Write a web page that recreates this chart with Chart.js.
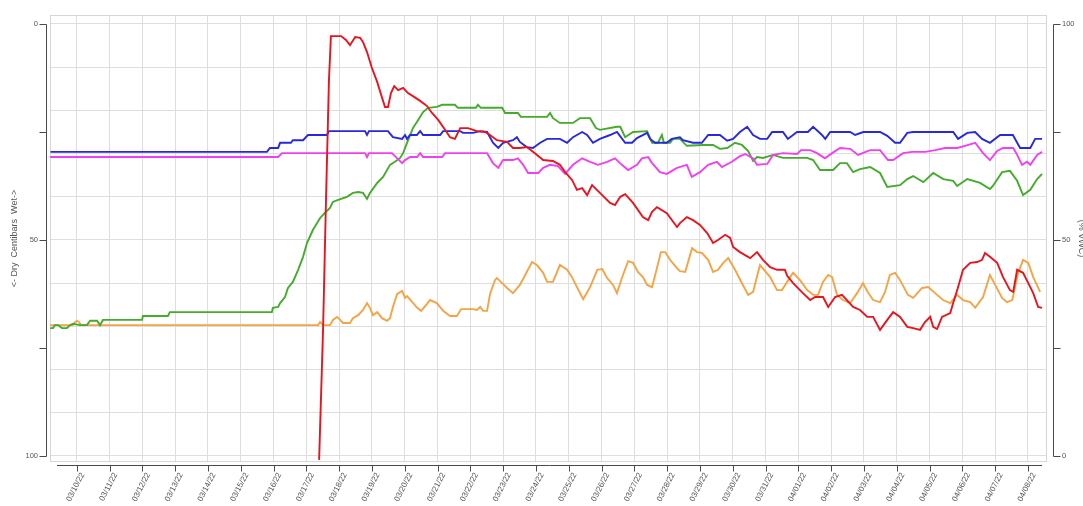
<!DOCTYPE html>
<html>
<head>
<meta charset="utf-8">
<script src="https://cdn.jsdelivr.net/npm/chart.js@4.4.1/dist/chart.umd.min.js"></script>
<style>
html,body{margin:0;padding:0;overflow:hidden;background:#ffffff;}
canvas{display:block;}
</style>
</head>
<body>
<canvas id="c" width="1092" height="506"></canvas>
<script>
// ---- tick labels ----
const dayLabels = ["03/10/22","03/11/22","03/12/22","03/13/22","03/14/22","03/15/22","03/16/22","03/17/22","03/18/22","03/19/22","03/20/22","03/21/22","03/22/22","03/23/22","03/24/22","03/25/22","03/26/22","03/27/22","03/28/22","03/29/22","03/30/22","03/31/22","04/01/22","04/02/22","04/03/22","04/04/22","04/05/22","04/06/22","04/07/22","04/08/22"];
const gridSteps = [0,10,20,30,40,50,60,70,80,90,100];
const axisLabels = [0,50,100];
const axisMarks = [0,25,50,75,100];
const leftTitle = "<- Dry  Centibars  Wet->";
const rightTitle = "(% VWC)";

// ---- red (left axis, centibars) : x = days since 03/10/22 ----
const redDays = [7.39,7.51,7.60,7.69,7.75,8.06,8.21,8.33,8.49,8.64,8.73,8.85,9.00,9.16,9.31,9.40,9.49,9.58,9.68,9.80,9.95,10.10,10.25,10.47,10.68,10.83,11.02,11.23,11.38,11.53,11.69,11.93,12.20,12.45,12.60,12.81,13.12,13.30,13.51,13.72,13.91,14.22,14.52,14.73,14.89,15.10,15.25,15.41,15.56,15.71,15.95,16.26,16.41,16.57,16.72,16.96,17.26,17.42,17.54,17.69,17.99,18.30,18.39,18.60,18.79,19.00,19.22,19.40,19.55,19.77,19.92,20.01,20.22,20.53,20.74,20.92,21.14,21.35,21.59,21.66,21.84,22.14,22.36,22.51,22.75,22.91,23.12,23.33,23.48,23.67,23.88,24.10,24.28,24.49,24.71,24.89,25.10,25.32,25.50,25.71,25.86,26.02,26.11,26.23,26.38,26.63,26.72,26.87,27.02,27.24,27.45,27.60,27.69,27.84,28.06,28.15,28.24,28.45,28.55,28.67,28.85,29.07,29.16,29.31,29.43];
const redVals = [100.9,70.8,40.7,13.0,2.8,2.8,3.7,4.9,3.0,3.2,4.2,6.5,10.2,13.4,17.1,19.2,19.2,16.0,14.4,15.3,14.8,16.0,16.7,17.8,19.0,20.6,22.2,24.5,26.2,26.6,24.1,24.1,24.8,25.0,25.7,26.9,27.3,28.7,28.7,28.5,29.6,31.5,31.7,32.6,34.3,36.1,38.4,38.0,39.6,37.3,39.1,41.4,41.9,40.0,39.4,41.4,44.7,45.4,43.5,42.4,43.8,47.0,46.1,44.7,45.4,46.5,48.4,50.7,50.0,48.8,49.5,51.6,52.8,54.2,52.8,54.6,56.3,56.9,56.9,58.3,60.0,62.3,63.9,63.2,63.2,65.5,63.2,62.7,63.9,65.5,66.2,67.8,67.8,70.8,68.5,66.7,67.8,70.1,70.4,70.8,69.0,67.8,70.1,70.6,67.8,66.9,64.6,60.9,56.9,55.3,55.1,54.6,53.0,53.9,55.3,56.9,58.6,61.6,62.0,56.9,57.6,60.9,62.3,65.5,65.7];

// ---- blue (right axis) ----
const blueDays = [-0.8,5.80,5.89,6.14,6.20,6.53,6.59,6.90,7.05,7.63,7.69,8.79,8.85,8.91,9.49,9.64,9.92,10.01,10.07,10.16,10.37,10.47,10.56,11.08,11.17,11.69,11.78,12.08,12.30,12.51,12.69,12.85,13.00,13.30,13.42,13.51,13.72,13.91,14.13,14.34,14.73,14.95,15.13,15.41,15.56,15.74,15.95,16.26,16.47,16.72,16.93,17.08,17.39,17.48,17.63,17.99,18.14,18.39,18.48,18.79,19.06,19.25,19.61,19.83,20.01,20.22,20.44,20.62,20.83,21.05,21.20,21.53,21.68,21.96,22.29,22.45,22.72,22.82,22.97,23.58,23.73,23.98,24.49,24.71,24.95,25.10,25.32,25.50,26.72,26.87,27.15,27.39,27.60,27.84,28.15,28.54,28.76,29.07,29.22,29.43];
const blueVals = [70.4,70.4,71.3,71.3,72.5,72.5,73.1,73.1,74.3,74.3,75.2,75.2,74.3,75.2,75.2,73.8,73.4,74.3,73.4,74.3,74.3,75.2,74.3,74.3,75.2,75.2,74.8,74.8,75.2,75.0,72.5,71.3,72.5,73.1,73.8,72.7,71.5,71.3,72.5,73.4,73.4,72.5,73.8,75.0,74.3,72.5,73.4,74.3,75.0,72.5,72.5,73.6,74.8,73.4,72.5,72.5,73.4,73.8,73.1,72.5,72.5,74.3,74.3,73.0,73.4,75.0,76.2,74.3,73.4,73.4,75.0,75.0,73.4,75.0,75.0,76.2,74.3,73.4,75.0,75.0,74.3,75.0,75.0,74.1,72.5,72.5,74.8,75.0,75.0,73.4,74.8,75.0,73.4,72.5,74.3,74.3,71.3,71.3,73.4,73.4];

// ---- magenta (right axis) ----
const magentaDays = [-0.81,6.14,6.26,8.79,8.85,8.91,9.61,9.77,9.92,10.01,10.16,10.38,10.47,10.56,11.14,11.23,12.51,12.69,12.85,13.00,13.30,13.45,13.61,13.76,14.07,14.22,14.43,14.67,14.89,15.13,15.41,15.65,15.89,16.17,16.41,16.62,16.81,17.08,17.23,17.42,17.54,17.78,17.99,18.30,18.60,18.75,19.00,19.25,19.52,19.67,19.97,20.22,20.38,20.62,20.74,21.05,21.23,21.53,21.96,22.08,22.36,22.57,22.81,23.03,23.27,23.58,23.82,24.19,24.49,24.73,24.89,25.19,25.47,25.87,26.17,26.47,26.84,27.08,27.39,27.63,27.84,28.06,28.24,28.55,28.67,28.82,28.97,29.07,29.28,29.43];
const magentaVals = [69.2,69.2,70.1,70.1,69.2,70.1,70.1,68.9,67.8,68.5,69.2,69.2,70.1,69.2,69.2,70.1,70.1,67.8,66.7,68.5,68.5,68.9,67.4,65.5,65.5,66.7,67.4,67.1,65.3,67.4,68.9,68.1,67.4,68.1,68.9,67.4,66.2,67.4,68.9,69.2,67.8,65.7,65.3,66.7,67.4,64.6,65.7,67.4,68.1,66.9,68.1,69.4,69.9,68.9,67.4,67.6,69.7,70.1,69.9,70.8,70.8,70.1,68.9,70.1,71.3,71.1,69.7,70.8,70.8,68.5,68.5,70.1,70.4,70.4,70.8,71.3,71.3,71.8,72.5,70.1,68.5,70.6,71.3,71.3,69.7,67.4,68.1,67.4,69.7,70.4];

// ---- green (right axis) ----
const greenDays = [-0.81,-0.72,-0.66,-0.57,-0.45,-0.30,-0.20,-0.11,0.10,0.31,0.41,0.62,0.71,0.80,1.99,2.02,2.78,2.84,5.95,5.98,6.14,6.20,6.35,6.44,6.59,6.75,6.90,7.02,7.20,7.42,7.57,7.72,7.81,7.97,8.24,8.42,8.58,8.73,8.85,8.94,9.16,9.34,9.55,9.70,9.86,9.95,10.07,10.25,10.41,10.56,10.71,10.98,11.14,11.53,11.62,12.17,12.23,12.32,12.97,13.06,13.45,13.54,14.34,14.43,14.52,14.73,15.13,15.34,15.65,15.83,15.95,16.47,16.57,16.72,16.96,17.39,17.54,17.72,17.84,17.90,18.09,18.18,18.39,18.60,19.09,19.40,19.61,19.83,20.07,20.28,20.47,20.62,20.74,20.92,21.23,21.53,22.27,22.45,22.66,23.06,23.27,23.48,23.67,23.88,24.19,24.49,24.71,25.10,25.32,25.50,25.81,26.11,26.42,26.72,26.84,27.15,27.54,27.84,27.93,28.21,28.45,28.67,28.85,29.07,29.28,29.43];
const greenVals = [29.6,29.6,30.3,30.3,29.6,29.6,30.3,30.6,30.3,30.3,31.3,31.3,30.3,31.5,31.5,32.4,32.4,33.3,33.3,34.3,34.5,35.4,36.8,38.9,40.3,43.1,46.1,49.3,52.3,55.1,56.3,57.4,58.8,59.3,60.0,60.9,61.1,60.9,59.5,60.9,63.2,64.6,67.4,68.1,69.0,70.1,72.5,75.9,77.8,79.6,80.6,80.8,81.3,81.3,80.6,80.6,81.3,80.6,80.6,79.4,79.4,78.5,78.5,79.4,78.2,77.1,77.1,78.2,78.2,75.9,75.5,76.2,76.2,73.8,75.0,75.2,72.5,72.5,74.3,72.5,72.5,73.4,73.4,71.8,72.0,72.0,71.1,71.3,72.5,72.0,70.6,68.3,69.2,69.0,69.7,69.0,69.0,68.5,66.2,66.2,67.8,67.8,65.7,66.4,66.9,65.5,62.3,62.7,64.1,64.8,63.4,65.5,64.1,63.7,62.5,64.1,63.2,61.8,62.5,65.7,66.0,63.7,60.4,61.6,64.1,65.3];

// ---- orange (right axis) ----
const orangeDays = [-0.81,-0.11,-0.05,0.01,0.07,0.13,7.36,7.42,7.51,7.72,7.81,7.94,8.03,8.12,8.33,8.42,8.58,8.73,8.85,8.94,9.03,9.16,9.31,9.46,9.55,9.64,9.77,9.92,10.01,10.07,10.23,10.38,10.50,10.68,10.77,10.98,11.17,11.38,11.59,11.72,12.08,12.20,12.30,12.39,12.51,12.60,12.75,12.81,12.97,13.12,13.30,13.51,13.72,13.88,14.03,14.22,14.34,14.52,14.73,14.95,15.10,15.25,15.44,15.65,15.87,16.02,16.17,16.35,16.47,16.62,16.81,16.96,17.11,17.26,17.39,17.54,17.69,17.81,17.94,18.09,18.30,18.39,18.55,18.76,18.91,19.06,19.25,19.40,19.55,19.71,19.86,20.07,20.28,20.47,20.62,20.83,21.14,21.35,21.50,21.75,21.84,22.05,22.27,22.45,22.60,22.75,22.91,23.03,23.18,23.36,23.58,23.79,23.97,24.12,24.28,24.49,24.64,24.79,24.95,25.10,25.34,25.50,25.77,25.96,26.23,26.41,26.63,26.84,27.02,27.24,27.39,27.63,27.84,28.00,28.21,28.36,28.52,28.70,28.85,29.01,29.16,29.37];
const orangeVals = [30.3,30.3,31.0,31.3,31.0,30.3,30.3,31.0,30.3,30.3,31.5,32.2,31.5,30.8,30.8,31.9,32.6,33.8,35.4,34.3,32.6,33.3,31.9,31.3,31.9,34.5,37.5,38.2,36.6,37.0,35.6,34.3,33.6,35.2,36.1,35.4,33.6,32.4,32.4,34.0,34.0,33.8,34.5,33.6,33.6,37.5,40.7,41.2,40.0,38.9,37.7,39.6,42.6,44.9,44.2,42.4,40.3,40.3,44.2,43.1,41.4,39.1,36.3,39.1,43.1,43.3,41.2,39.6,37.7,41.2,45.1,44.7,42.6,41.4,39.6,39.1,43.5,47.2,47.2,45.4,43.5,42.8,42.6,48.1,47.2,47.0,45.4,42.6,43.1,44.7,45.8,43.1,40.0,37.3,38.0,44.2,41.4,38.4,38.4,41.4,42.4,40.7,38.4,37.3,37.3,40.3,41.9,41.4,37.3,36.1,35.4,37.7,40.0,37.9,36.1,35.6,37.9,41.9,42.4,40.7,37.3,36.6,38.9,39.1,37.3,36.1,35.4,37.3,36.1,35.6,34.3,36.8,41.9,39.6,36.6,35.6,36.1,42.4,45.4,44.7,41.4,38.0];

function pts(xs, ys) {
  const n = Math.min(xs.length, ys.length);
  const out = [];
  for (let i = 0; i < n; i++) out.push({x: xs[i], y: ys[i]});
  return out;
}

const FONT = "'Liberation Sans', Arial, sans-serif";
const TXT = '#555555';

const axisDeco = {
  id: 'axisDeco',
  beforeDatasetsDraw(chart) {
    const {ctx, chartArea: a} = chart;
    ctx.save();
    ctx.strokeStyle = '#d6d6d6';
    ctx.lineWidth = 1;
    ctx.strokeRect(Math.round(a.left) + 0.5, Math.round(a.top) + 0.5,
      Math.round(a.right - a.left) - 1, Math.round(a.bottom - a.top) - 1);
    ctx.restore();
  },
  afterDraw(chart) {
    const {ctx, chartArea: a, scales} = chart;
    const L = scales.yL, R = scales.yR, X = scales.x;
    ctx.save();
    ctx.strokeStyle = '#4a4a4a';
    ctx.lineWidth = 1;
    const seg = (x1, y1, x2, y2) => { ctx.beginPath(); ctx.moveTo(x1, y1); ctx.lineTo(x2, y2); ctx.stroke(); };
    // left axis
    const lx = Math.round(a.left) - 3.5;
    seg(lx, Math.round(L.getPixelForValue(0)) + 0.5, lx, Math.round(L.getPixelForValue(100)) + 0.5);
    axisMarks.forEach(v => { const y = Math.round(L.getPixelForValue(v)) + 0.5; seg(lx - 7, y, lx, y); });
    // right axis
    const rx = Math.round(a.right) + 6.5;
    seg(rx, Math.round(R.getPixelForValue(0)) + 0.5, rx, Math.round(R.getPixelForValue(100)) + 0.5);
    axisMarks.forEach(v => { const y = Math.round(R.getPixelForValue(v)) + 0.5; seg(rx, y, rx + 7, y); });
    // bottom axis
    const by = Math.round(a.bottom) + 3.5;
    seg(a.left + 7, by, a.right - 5, by);
    dayLabels.forEach((_, i) => { const px = Math.round(X.getPixelForValue(i)) + 0.5; seg(px, by, px, by + 6); });
    ctx.restore();
  }
};

const lineDs = (label, data, color, axis) => ({
  label, data, borderColor: color, backgroundColor: color,
  borderWidth: 1.9, pointRadius: 0, tension: 0, fill: false, yAxisID: axis
});

new Chart(document.getElementById('c'), {
  type: 'line',
  data: {
    datasets: [
      lineDs('Tensiometer', pts(redDays, redVals), '#e8141e', 'yL'),
      lineDs('Sensor 1', pts(blueDays, blueVals), '#2828dc', 'yR'),
      lineDs('Sensor 2', pts(magentaDays, magentaVals), '#f040f0', 'yR'),
      lineDs('Sensor 3', pts(greenDays, greenVals), '#44ab2c', 'yR'),
      lineDs('Sensor 4', pts(orangeDays, orangeVals), '#f5a445', 'yR')
    ]
  },
  options: {
    responsive: false,
    animation: false,
    layout: { padding: { top: 15, left: 0, right: 0, bottom: 0 } },
    plugins: { legend: { display: false }, tooltip: { enabled: false } },
    scales: {
      x: {
        type: 'linear', position: 'bottom', min: -0.814, max: 29.58,
        afterBuildTicks: s => { s.ticks = dayLabels.map((_, i) => ({value: i})); },
        afterFit: s => { s.height = 44; s.paddingLeft = 0; s.paddingRight = 0; },
        grid: { color: '#dedede', lineWidth: 1, drawTicks: false },
        border: { display: false },
        ticks: {
          autoSkip: false, minRotation: 63, maxRotation: 63, padding: 9, labelOffset: 6,
          color: TXT, font: { family: FONT, size: 8 },
          callback: (v) => dayLabels[Math.round(v)] ?? ''
        }
      },
      yL: {
        type: 'linear', position: 'left', reverse: true, min: -2.08, max: 101.39,
        afterBuildTicks: s => { s.ticks = gridSteps.map(v => ({value: v})); },
        afterFit: s => { s.width = 50; s.paddingTop = 0; s.paddingBottom = 0; },
        grid: { color: '#dedede', lineWidth: 1, drawTicks: false },
        border: { display: false },
        ticks: {
          autoSkip: false, padding: 12, color: TXT, font: { family: FONT, size: 7.5 },
          callback: (v) => axisLabels.includes(v) ? String(v) : ''
        },
        title: { display: true, text: leftTitle, color: TXT, font: { family: FONT, size: 9 }, padding: { top: 9, bottom: 0 } }
      },
      yR: {
        type: 'linear', position: 'right', min: -1.39, max: 102.08,
        afterBuildTicks: s => { s.ticks = axisLabels.map(v => ({value: v})); },
        afterFit: s => { s.width = 45; s.paddingTop = 0; s.paddingBottom = 0; },
        grid: { display: false, drawTicks: false },
        border: { display: false },
        ticks: {
          autoSkip: false, padding: 15, color: TXT, font: { family: FONT, size: 7.5 },
          callback: (v) => String(v)
        },
        title: { display: true, text: rightTitle, color: TXT, font: { family: FONT, size: 9 }, padding: { top: 5, bottom: 0 } }
      }
    }
  },
  plugins: [axisDeco]
});
</script>
</body>
</html>
